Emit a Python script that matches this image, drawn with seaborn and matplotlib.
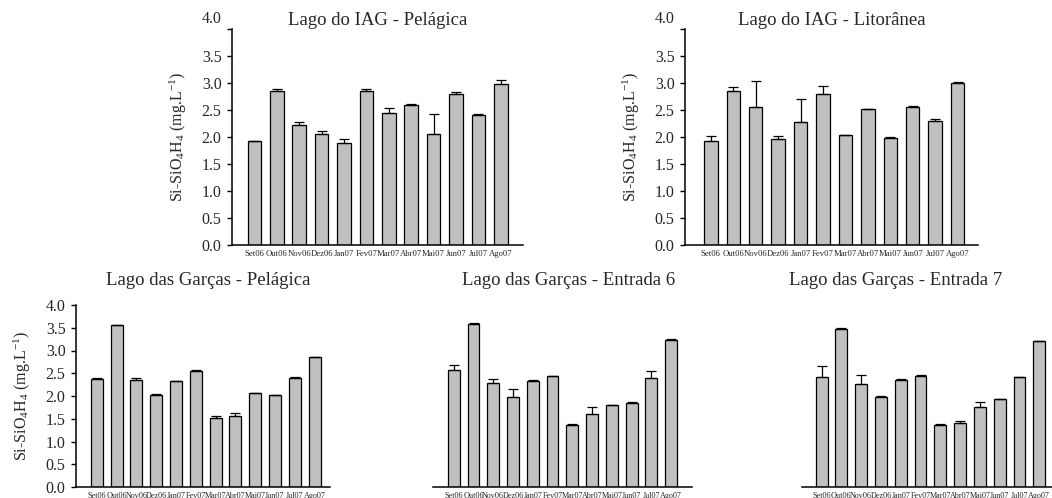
import numpy as np
import pandas as pd
import matplotlib
matplotlib.use("Agg")
import matplotlib.pyplot as plt
from matplotlib.transforms import ScaledTranslation
import seaborn as sns

# Sampling months
months = ["Set06", "Out06", "Nov06", "Dez06", "Jan07", "Fev07",
          "Mar07", "Abr07", "Mai07", "Jun07", "Jul07", "Ago07"]

# Mean Si-SiO4H4 (mg/L) and upper standard deviation per site
iag_pel = [1.92, 2.85, 2.23, 2.06, 1.88, 2.85, 2.44, 2.60, 2.06, 2.80, 2.40, 2.99]
iag_pel_sd = [0.0, 0.03, 0.05, 0.05, 0.09, 0.03, 0.09, 0.005, 0.36, 0.04, 0.03, 0.07]

iag_lit = [1.92, 2.85, 2.55, 1.97, 2.27, 2.80, 2.03, 2.51, 1.99, 2.56, 2.30, 3.00]
iag_lit_sd = [0.09, 0.08, 0.49, 0.055, 0.44, 0.15, 0.01, 0.01, 0.01, 0.01, 0.03, 0.02]

garcas_pel = [2.38, 3.55, 2.36, 2.03, 2.33, 2.56, 1.51, 1.55, 2.07, 2.03, 2.39, 2.86]
garcas_pel_sd = [0.02, 0.02, 0.04, 0.01, 0.01, 0.01, 0.04, 0.08, 0.0, 0.0, 0.03, 0.0]

garcas_e6 = [2.57, 3.59, 2.28, 1.97, 2.34, 2.43, 1.36, 1.60, 1.80, 1.84, 2.39, 3.23]
garcas_e6_sd = [0.12, 0.01, 0.09, 0.18, 0.01, 0.01, 0.03, 0.15, 0.01, 0.02, 0.16, 0.02]

garcas_e7 = [2.42, 3.48, 2.27, 1.97, 2.36, 2.45, 1.355, 1.41, 1.75, 1.94, 2.42, 3.20]
garcas_e7_sd = [0.24, 0.01, 0.19, 0.04, 0.02, 0.015, 0.02, 0.05, 0.11, 0.0, 0.0, 0.0]

titles = ["Lago do IAG - Pelágica", "Lago do IAG - Litorânea",
          "Lago das Garças - Pelágica", "Lago das Garças - Entrada 6",
          "Lago das Garças - Entrada 7"]
yticks = [0.0, 0.5, 1.0, 1.5, 2.0, 2.5, 3.0, 3.5, 4.0]
ylabel = r"Si-SiO$_4$H$_4$ (mg.L$^{-1}$)"

sns.set_style("ticks")
plt.rcParams["font.family"] = ["Liberation Serif", "DejaVu Serif"]
plt.rcParams["mathtext.fontset"] = "custom"
plt.rcParams["mathtext.rm"] = "Liberation Serif"
plt.rcParams["mathtext.it"] = "Liberation Serif:italic"
plt.rcParams["mathtext.bf"] = "Liberation Serif:bold"

W, H = 1052, 498
fig = plt.figure(figsize=(W / 100, H / 100), dpi=100)

# panel layout in pixels: left edge, y of zero, y of 4.0, x-limits, px per category
panels = [
    dict(vals=iag_pel, sd=iag_pel_sd, left=232, base=245, top=29, xlim=(-1.0, 12.0),
         px=22.4, yaxis=True, tpad=0.5, tx=0.5, lab_x=-0.148, raise_top=True, xfs=6.2),
    dict(vals=iag_lit, sd=iag_lit_sd, left=685, base=245, top=29, xlim=(-1.15, 11.9),
         px=22.44, yaxis=True, tpad=0.5, tx=0.5, lab_x=-0.148, raise_top=True, xfs=6.2),
    dict(vals=garcas_pel, sd=garcas_pel_sd, left=76, base=487, top=305, xlim=(-1.05, 11.77),
         px=19.8, yaxis=True, tpad=14.5, tx=0.52, lab_x=-0.17, raise_top=False, xfs=5.9),
    dict(vals=garcas_e6, sd=garcas_e6_sd, left=433, base=487, top=305, xlim=(-1.05, 12.05),
         px=19.76, yaxis=False, tpad=14.5, tx=0.525, lab_x=None, raise_top=False, xfs=5.9),
    dict(vals=garcas_e7, sd=garcas_e7_sd, left=802, base=487, top=305, xlim=(-0.99, 12.05),
         px=19.79, yaxis=False, tpad=14.5, tx=0.364, lab_x=None, raise_top=False, xfs=5.9),
]

for p, title in zip(panels, titles):
    width_px = (p["xlim"][1] - p["xlim"][0]) * p["px"]
    ax = fig.add_axes([p["left"] / W, (H - p["base"]) / H,
                       width_px / W, (p["base"] - p["top"]) / H])
    df = pd.DataFrame({"month": months, "si": p["vals"]})
    sns.barplot(data=df, x="month", y="si", order=months, color="#c0c0c0",
                saturation=1, width=0.6, edgecolor="black", linewidth=0.9,
                errorbar=None, ax=ax)
    x = np.arange(len(months))
    ax.errorbar(x, p["vals"], yerr=[np.zeros(len(months)), p["sd"]], fmt="none",
                ecolor="black", elinewidth=0.9, capsize=3.5, capthick=0.9, zorder=3)
    ax.set_xlim(*p["xlim"])
    ax.set_ylim(0, 4.0)
    ax.set_xlabel("")
    ax.set_ylabel("")
    ax.tick_params(axis="x", length=0, pad=3.5, labelsize=p["xfs"])
    for s in ["top", "right"]:
        ax.spines[s].set_visible(False)
    ax.spines["bottom"].set_linewidth(1.1)
    ax.spines["bottom"].set_color("black")
    if p["yaxis"]:
        ax.set_yticks(yticks)
        ax.set_yticklabels([f"{v:.1f}" for v in yticks])
        ax.tick_params(axis="y", length=3.5, width=1.0, pad=4, labelsize=11.5,
                       color="black")
        ax.spines["left"].set_linewidth(1.1)
        ax.spines["left"].set_color("black")
        ax.set_ylabel(ylabel, fontsize=11.5)
        ax.yaxis.set_label_coords(p["lab_x"], 0.5)
        if p["raise_top"]:
            lab = ax.yaxis.get_major_ticks()[-1].label1
            lab.set_transform(lab.get_transform() +
                              ScaledTranslation(0, 9 / 72, fig.dpi_scale_trans))
    else:
        ax.spines["left"].set_visible(False)
        ax.set_yticks([])
    ax.set_title(title, fontsize=13.5, pad=p["tpad"], x=p["tx"])

fig.savefig("out.png", dpi=100)
